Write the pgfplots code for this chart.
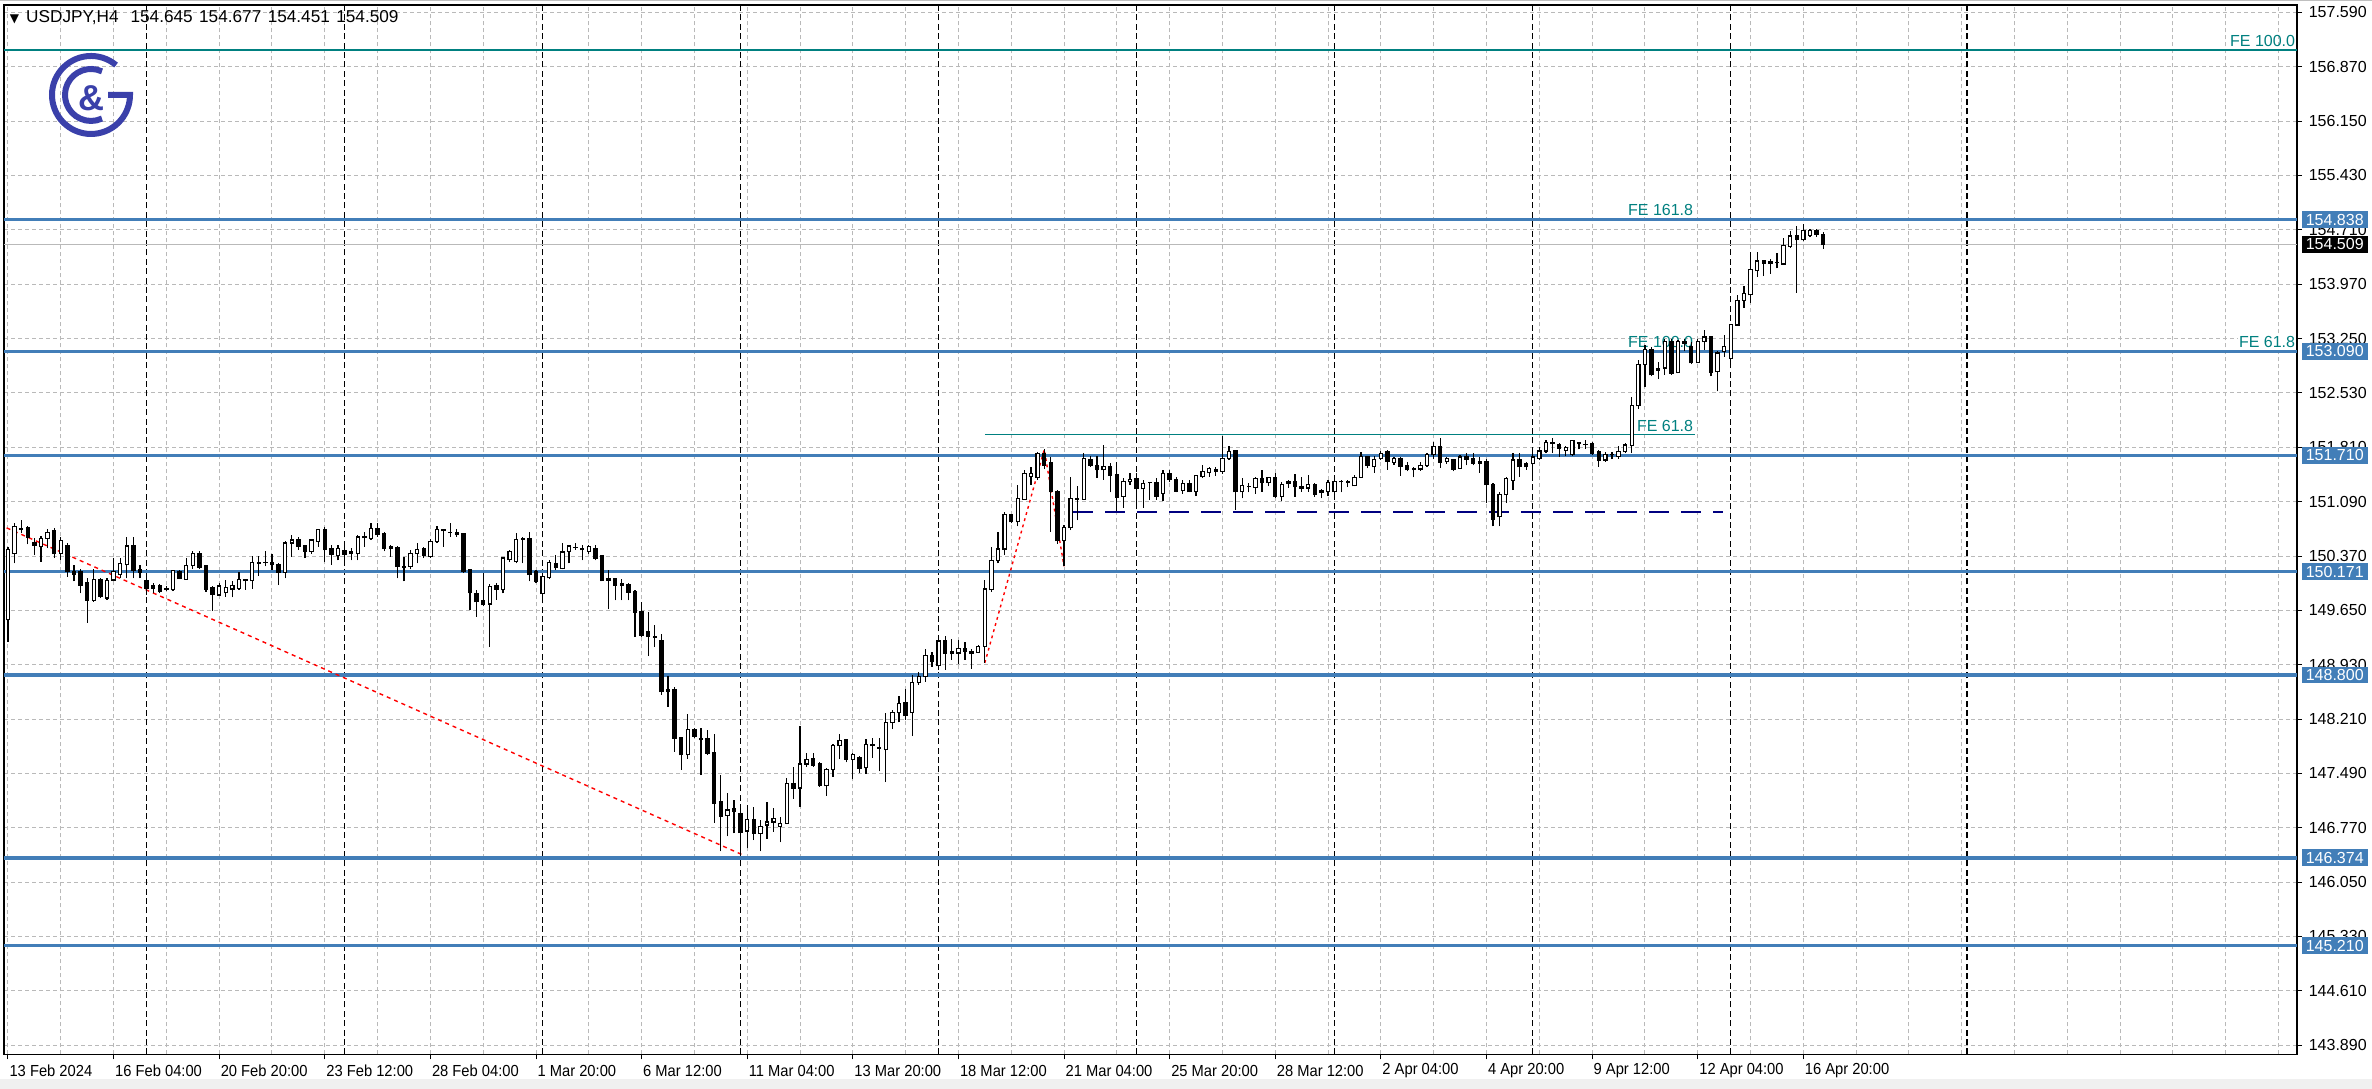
\documentclass[border=0pt]{standalone}
\usepackage{pgfplots}
\pgfplotsset{compat=1.18}
\usepackage{pgfplotstable}
\usepackage{fontspec}
\setmainfont{Liberation Sans}
\newfontfamily\dejavu{DejaVu Sans}
\newfontfamily\narrowfont[FakeStretch=0.92]{Liberation Sans}
\definecolor{lvlblue}{RGB}{66,126,184}
\definecolor{feteal}{RGB}{0,128,128}
\definecolor{gridgray}{RGB}{185,185,185}
\definecolor{logoblue}{RGB}{58,64,170}
\definecolor{navyline}{RGB}{0,0,128}
\definecolor{bidgray}{RGB}{185,185,185}

\pgfplotstableread{
x O H L C
0 149.53 150.50 149.24 150.46
1 150.41 150.81 150.28 150.77
2 150.74 150.85 150.68 150.73
3 150.76 150.77 150.53 150.63
4 150.55 150.61 150.39 150.52
5 150.50 150.64 150.30 150.61
6 150.61 150.73 150.48 150.69
7 150.72 150.75 150.35 150.41
8 150.41 150.63 150.33 150.58
9 150.51 150.55 150.10 150.17
10 150.17 150.26 150.04 150.13
11 150.17 150.21 149.88 149.99
12 150.02 150.08 149.49 149.79
13 149.79 150.21 149.77 150.07
14 150.07 150.08 149.82 149.84
15 149.82 150.08 149.80 150.05
16 150.06 150.35 150.04 150.17
17 150.13 150.35 150.08 150.28
18 150.26 150.63 150.08 150.51
19 150.51 150.63 150.08 150.19
20 150.20 150.26 150.08 150.16
21 150.05 150.13 149.86 149.95
22 149.99 150.02 149.88 149.95
23 149.98 150.00 149.88 149.91
24 149.935 149.98 149.91 149.94
25 149.93 150.19 149.91 150.18
26 150.17 150.19 150.07 150.08
27 150.07 150.35 150.06 150.25
28 150.25 150.44 150.21 150.41
29 150.41 150.44 150.21 150.23
30 150.25 150.26 149.90 149.94
31 149.96 149.98 149.65 149.87
32 149.86 150.02 149.85 149.98
33 149.89 150.06 149.84 149.96
34 149.94 150.04 149.83 149.99
35 149.95 150.17 149.93 150.07
36 150.07 150.07 149.93 150.05
37 150.05 150.38 149.94 150.29
38 150.28 150.38 150.11 150.29
39 150.29 150.44 150.24 150.29
40 150.29 150.41 150.19 150.26
41 150.26 150.29 149.99 150.16
42 150.16 150.57 150.08 150.55
43 150.55 150.66 150.37 150.59
44 150.60 150.63 150.46 150.51
45 150.51 150.52 150.35 150.44
46 150.44 150.60 150.41 150.59
47 150.57 150.74 150.50 150.73
48 150.73 150.76 150.30 150.46
49 150.47 150.52 150.26 150.40
50 150.38 150.52 150.32 150.48
51 150.45 150.55 150.30 150.40
52 150.43 150.48 150.32 150.41
53 150.41 150.66 150.32 150.63
54 150.63 150.70 150.50 150.62
55 150.61 150.82 150.59 150.74
56 150.74 150.81 150.63 150.66
57 150.68 150.69 150.44 150.48
58 150.50 150.52 150.37 150.48
59 150.49 150.51 150.08 150.24
60 150.24 150.37 150.04 150.23
61 150.24 150.46 150.20 150.41
62 150.41 150.55 150.28 150.46
63 150.47 150.50 150.35 150.38
64 150.37 150.60 150.35 150.57
65 150.57 150.78 150.55 150.73
66 150.73 150.73 150.50 150.71
67 150.69 150.82 150.63 150.69
68 150.69 150.73 150.63 150.66
69 150.67 150.68 150.15 150.17
70 150.20 150.21 149.66 149.89
71 149.88 149.93 149.57 149.77
72 149.79 150.15 149.71 149.73
73 149.74 150.00 149.17 149.97
74 149.99 150.02 149.80 149.94
75 149.93 150.37 149.88 150.35
76 150.33 150.46 150.30 150.44
77 150.30 150.68 150.28 150.60
78 150.60 150.63 150.28 150.61
79 150.61 150.70 150.04 150.13
80 150.17 150.19 150.02 150.04
81 149.88 150.15 149.75 150.11
82 150.09 150.32 150.07 150.29
83 150.27 150.39 150.19 150.22
84 150.21 150.55 150.20 150.43
85 150.44 150.52 150.28 150.51
86 150.49 150.55 150.46 150.49
87 150.48 150.52 150.32 150.46
88 150.44 150.52 150.41 150.50
89 150.48 150.52 150.32 150.35
90 150.38 150.39 150.04 150.05
91 150.08 150.19 149.67 150.06
92 150.08 150.09 149.79 149.99
93 150.01 150.07 149.79 149.99
94 150.00 150.02 149.79 149.90
95 149.90 149.93 149.30 149.63
96 149.64 149.77 149.30 149.33
97 149.37 149.64 149.05 149.31
98 149.31 149.46 149.17 149.30
99 149.26 149.34 148.54 148.58
100 148.60 148.78 148.38 148.58
101 148.61 148.64 147.78 147.96
102 147.97 147.98 147.54 147.74
103 147.74 148.28 147.69 148.08
104 148.08 148.10 147.96 147.99
105 147.96 148.09 147.47 147.94
106 147.95 148.07 147.74 147.76
107 147.77 148.02 146.84 147.10
108 147.12 147.47 146.46 146.93
109 146.94 147.23 146.66 147.01
110 147.03 147.14 146.70 146.99
111 146.96 147.08 146.41 146.71
112 146.73 147.08 146.50 146.88
113 146.88 147.05 146.61 146.70
114 146.70 146.88 146.46 146.79
115 146.81 147.12 146.63 146.85
116 146.85 147.03 146.72 146.90
117 146.79 146.92 146.58 146.83
118 146.83 147.43 146.82 147.36
119 147.36 147.58 147.16 147.30
120 147.30 148.12 147.05 147.62
121 147.62 147.76 147.58 147.68
122 147.69 147.77 147.58 147.60
123 147.63 147.65 147.32 147.33
124 147.33 147.56 147.20 147.55
125 147.55 147.89 147.45 147.86
126 147.86 148.02 147.68 147.93
127 147.94 147.95 147.64 147.68
128 147.68 147.76 147.42 147.74
129 147.71 147.72 147.50 147.56
130 147.57 147.95 147.49 147.88
131 147.88 147.96 147.70 147.86
132 147.84 147.97 147.52 147.83
133 147.81 148.30 147.38 148.17
134 148.17 148.33 148.08 148.30
135 148.30 148.52 148.17 148.42
136 148.43 148.62 148.20 148.26
137 148.30 148.80 147.99 148.70
138 148.70 148.84 148.67 148.78
139 148.78 149.15 148.71 149.06
140 149.06 149.11 148.91 148.98
141 148.92 149.27 148.87 149.25
142 149.25 149.31 148.87 149.09
143 149.11 149.27 149.00 149.08
144 149.09 149.26 148.95 149.15
145 149.15 149.24 149.00 149.11
146 149.11 149.15 148.88 149.09
147 149.10 149.20 149.09 149.18
148 149.18 150.06 148.96 149.94
149 149.93 150.49 149.90 150.32
150 150.32 150.69 150.28 150.47
151 150.47 150.96 150.39 150.93
152 150.92 150.94 150.81 150.83
153 150.83 151.32 150.77 151.14
154 151.13 151.52 151.12 151.47
155 151.43 151.56 151.32 151.47
156 151.42 151.76 151.39 151.74
157 151.74 151.79 151.53 151.58
158 151.61 151.69 150.70 151.23
159 151.23 151.25 150.54 150.58
160 150.58 150.79 150.24 150.76
161 150.75 151.43 150.72 151.14
162 151.14 151.30 150.85 151.13
163 151.13 151.74 151.12 151.67
164 151.66 151.70 151.56 151.58
165 151.58 151.70 151.41 151.52
166 151.52 151.85 151.39 151.56
167 151.56 151.61 151.22 151.45
168 151.45 151.63 150.98 151.16
169 151.17 151.41 151.02 151.36
170 151.36 151.48 151.32 151.39
171 151.41 151.48 151.05 151.27
172 151.27 151.38 151.02 151.34
173 151.35 151.36 151.12 151.35
174 151.35 151.41 151.12 151.17
175 151.21 151.52 151.10 151.47
176 151.47 151.52 151.36 151.39
177 151.39 151.43 151.22 151.24
178 151.25 151.39 151.20 151.34
179 151.34 151.39 151.22 151.23
180 151.23 151.45 151.17 151.44
181 151.43 151.58 151.41 151.50
182 151.48 151.56 151.43 151.54
183 151.52 151.56 151.44 151.50
184 151.50 151.97 151.47 151.67
185 151.67 151.83 151.65 151.76
186 151.77 151.78 150.99 151.23
187 151.23 151.41 151.14 151.31
188 151.30 151.34 151.22 151.30
189 151.29 151.43 151.20 151.41
190 151.41 151.52 151.23 151.35
191 151.35 151.43 151.30 151.42
192 151.42 151.48 151.15 151.17
193 151.17 151.36 151.11 151.33
194 151.36 151.39 151.28 151.34
195 151.36 151.47 151.16 151.30
196 151.30 151.43 151.23 151.28
197 151.28 151.45 151.23 151.32
198 151.32 151.34 151.16 151.20
199 151.24 151.27 151.14 151.22
200 151.23 151.38 151.17 151.35
201 151.23 151.39 151.12 151.36
202 151.36 151.38 151.22 151.36
203 151.36 151.38 151.29 151.35
204 151.31 151.45 151.30 151.42
205 151.42 151.76 151.41 151.70
206 151.69 151.70 151.54 151.58
207 151.56 151.70 151.48 151.66
208 151.67 151.77 151.65 151.74
209 151.76 151.78 151.52 151.63
210 151.62 151.69 151.59 151.67
211 151.67 151.69 151.44 151.57
212 151.58 151.62 151.50 151.52
213 151.54 151.56 151.42 151.52
214 151.53 151.62 151.51 151.58
215 151.58 151.74 151.56 151.72
216 151.72 151.89 151.66 151.83
217 151.83 151.94 151.55 151.62
218 151.63 151.69 151.60 151.67
219 151.66 151.67 151.50 151.53
220 151.54 151.72 151.53 151.69
221 151.69 151.74 151.58 151.66
222 151.67 151.74 151.58 151.61
223 151.63 151.69 151.48 151.61
224 151.63 151.67 151.08 151.32
225 151.32 151.34 150.77 150.86
226 150.90 151.23 150.77 151.19
227 151.19 151.43 151.08 151.40
228 151.38 151.74 151.25 151.65
229 151.65 151.74 151.43 151.56
230 151.60 151.63 151.52 151.56
231 151.60 151.74 151.45 151.69
232 151.67 151.82 151.65 151.77
233 151.77 151.92 151.74 151.88
234 151.88 151.94 151.74 151.87
235 151.86 151.87 151.69 151.81
236 151.78 151.83 151.70 151.82
237 151.72 151.92 151.70 151.91
238 151.88 151.89 151.79 151.87
239 151.86 151.91 151.80 151.86
240 151.87 151.89 151.72 151.74
241 151.76 151.78 151.56 151.65
242 151.65 151.75 151.63 151.72
243 151.72 151.76 151.66 151.72
244 151.70 151.83 151.67 151.76
245 151.76 151.88 151.74 151.85
246 151.84 152.49 151.74 152.37
247 152.37 152.97 152.33 152.92
248 152.92 153.17 152.62 153.12
249 153.12 153.15 152.76 152.78
250 152.86 152.95 152.73 152.84
251 152.87 153.26 152.78 153.22
252 153.22 153.26 152.78 152.80
253 152.81 153.24 152.80 153.22
254 153.22 153.25 153.09 153.20
255 153.15 153.22 152.92 152.94
256 152.94 153.25 152.93 153.22
257 153.22 153.37 153.11 153.28
258 153.28 153.29 152.76 152.81
259 152.82 153.10 152.56 153.07
260 153.09 153.31 153.02 153.15
261 153.00 153.46 152.89 153.45
262 153.44 153.84 153.43 153.77
263 153.77 153.96 153.67 153.86
264 153.84 154.41 153.73 154.18
265 154.16 154.41 154.08 154.29
266 154.29 154.29 154.09 154.26
267 154.28 154.32 154.12 154.26
268 154.27 154.40 154.19 154.27
269 154.25 154.60 154.24 154.49
270 154.48 154.69 154.46 154.62
271 154.62 154.75 153.87 154.57
272 154.57 154.78 154.55 154.69
273 154.63 154.71 154.61 154.69
274 154.69 154.71 154.61 154.645
275 154.645 154.677 154.451 154.509
}\candles

\tikzset{pbox/.style={fill=lvlblue, text=white, anchor=west, inner xsep=1pt, inner ysep=0pt, minimum height=4.2pt, xshift=1pt, font=\fontsize{4}{4.8}\selectfont}}

\begin{document}
\begin{tikzpicture}
\useasboundingbox (-1pt,-8.65pt) rectangle (592pt,263.6pt);
\fill[white] (-1pt,-8.65pt) rectangle (592pt,263.6pt);
\fill[black!6] (-1pt,-8.65pt) rectangle (592pt,-6.15pt);
\draw[black!25, line width=0.4pt] (-1pt,263.45pt) -- (592pt,263.45pt);
\begin{axis}[
  at={(0pt,0pt)}, anchor=south west,
  scale only axis, width=573.25pt, height=262.35pt,
  xmin=-0.6, xmax=346.8, ymin=143.768, ymax=157.684,
  clip mode=individual,
  axis line style={black, line width=0.4pt},
  every tick/.style={black, line width=0.25pt},
  tick align=outside,
  major tick length=1.25pt,
  minor tick length=0pt,
  xtick pos=left, ytick pos=right, yticklabel pos=right,
  xtick={0,16,...,272},
  xticklabels={13 Feb 2024,16 Feb 04:00,20 Feb 20:00,23 Feb 12:00,28 Feb 04:00,1 Mar 20:00,6 Mar 12:00,11 Mar 04:00,13 Mar 20:00,18 Mar 12:00,21 Mar 04:00,25 Mar 20:00,28 Mar 12:00,2 Apr 04:00,4 Apr 20:00,9 Apr 12:00,12 Apr 04:00,16 Apr 20:00},
  minor xtick={0,8,...,344},
  xminorgrids=true, xmajorgrids=false,
  ytick={143.890,144.611,145.332,146.052,146.773,147.494,148.215,148.936,149.656,150.377,151.098,151.818,152.539,153.260,153.981,154.702,155.423,156.143,156.864,157.585},
  yticklabels={143.890,144.610,145.330,146.050,146.770,147.490,148.210,148.930,149.650,150.370,151.090,151.810,152.530,153.250,153.970,154.710,155.430,156.150,156.870,157.590},
  ymajorgrids=true,
  major grid style={gridgray, line width=0.25pt, dash pattern=on 1pt off 0.75pt},
  minor grid style={gridgray, line width=0.25pt, dash pattern=on 1pt off 0.75pt},
  xticklabel style={font=\narrowfont\fontsize{4}{4.8}\selectfont, anchor=west, inner sep=0.2pt, yshift=-2.9pt},
  yticklabel style={font=\fontsize{4}{4.8}\selectfont, anchor=west, inner sep=0.2pt, xshift=1.3pt},
  extra x ticks={21,51,81,111,141,171,201,231,261,296.8},
  extra x tick labels={},
  extra x tick style={grid=major, major grid style={black, line width=0.38pt, dash pattern=on 1.5pt off 0.85pt}, major tick length=0pt},
]
% horizontal levels
\addplot[feteal, line width=0.45pt] coordinates {(-0.6,157.09) (346.8,157.09)};
\addplot[bidgray, line width=0.35pt] coordinates {(-0.6,154.509) (346.8,154.509)};
\addplot[lvlblue, line width=0.85pt] coordinates {(-0.6,154.838) (346.8,154.838)};
\addplot[lvlblue, line width=0.85pt] coordinates {(-0.6,153.090) (346.8,153.090)};
\addplot[lvlblue, line width=0.85pt] coordinates {(-0.6,151.710) (346.8,151.710)};
\addplot[lvlblue, line width=0.85pt] coordinates {(-0.6,150.171) (346.8,150.171)};
\addplot[lvlblue, line width=0.85pt] coordinates {(-0.6,148.800) (346.8,148.800)};
\addplot[lvlblue, line width=0.85pt] coordinates {(-0.6,146.374) (346.8,146.374)};
\addplot[lvlblue, line width=0.85pt] coordinates {(-0.6,145.210) (346.8,145.210)};
% FE 61.8 short line
\addplot[feteal, line width=0.35pt] coordinates {(148,151.99) (255.6,151.99)};
% navy dashed
\addplot[navyline, line width=0.45pt, dash pattern=on 5pt off 3pt] coordinates {(161.4,150.965) (259.8,150.965)};
% red trend lines
\addplot[red, line width=0.35pt, dash pattern=on 1pt off 1pt] coordinates {(-0.2,150.75) (111.4,146.41)};
\addplot[red, line width=0.35pt, dash pattern=on 0.7pt off 0.9pt] coordinates {(148,148.96) (157,151.79) (160,150.24)};
% FE labels
\node[anchor=south east, text=feteal, inner sep=0.3pt, yshift=0.45pt, font=\fontsize{4}{4.8}\selectfont] at (axis cs:255.6,154.838) {FE 161.8};
\node[anchor=south east, text=feteal, inner sep=0.3pt, yshift=0.45pt, font=\fontsize{4}{4.8}\selectfont] at (axis cs:255.6,153.090) {FE 100.0};
\node[anchor=south east, text=feteal, inner sep=0.3pt, yshift=0.2pt, font=\fontsize{4}{4.8}\selectfont] at (axis cs:255.6,151.990) {FE 61.8};
\node[anchor=south east, text=feteal, inner sep=0.3pt, yshift=0.2pt, font=\fontsize{4}{4.8}\selectfont] at (axis cs:346.8,157.09) {FE 100.0};
\node[anchor=south east, text=feteal, fill=white, inner sep=0.3pt, yshift=0.45pt, font=\fontsize{4}{4.8}\selectfont] at (axis cs:346.8,153.090) {FE 61.8};
% candles: wicks
\addplot[draw=none, mark=none, error bars/.cd, y dir=plus, y explicit, error mark=none,
  error bar style={draw=black, line width=0.3pt}]
  table[x=x, y=L, y error expr={\thisrow{H}-\thisrow{L}}] {\candles};
% candles: body (outer, black)
\addplot[draw=none, mark=none, error bars/.cd, y dir=plus, y explicit, error mark=none,
  error bar style={draw=black, line width=1.1pt, line cap=butt}]
  table[x=x, y expr={min(\thisrow{O},\thisrow{C})-0.008}, y error expr={abs(\thisrow{C}-\thisrow{O})+0.016}] {\candles};
% candles: body (inner, white for bullish)
\addplot[draw=none, mark=none, error bars/.cd, y dir=plus, y explicit, error mark=none,
  error bar style={draw=white, line width=0.55pt, line cap=butt}]
  table[x=x, y expr={\thisrow{O}+0.008}, y error expr={max(\thisrow{C}-\thisrow{O}-0.016,0)}] {\candles};
% price boxes
\node[pbox] at (axis cs:346.8,154.838) {154.838};
\node[pbox] at (axis cs:346.8,153.090) {153.090};
\node[pbox] at (axis cs:346.8,151.710) {151.710};
\node[pbox] at (axis cs:346.8,150.171) {150.171};
\node[pbox] at (axis cs:346.8,148.800) {148.800};
\node[pbox] at (axis cs:346.8,146.374) {146.374};
\node[pbox] at (axis cs:346.8,145.210) {145.210};
\node[pbox, fill=black] at (axis cs:346.8,154.509) {154.509};
\end{axis}
% header text
\begin{scope}[shift={(-1pt,263.6pt)}, x=0.25pt, y=-0.25pt]
\node[anchor=west, inner sep=0pt, font=\fontsize{4.3}{5}\selectfont] at (9,18) {{\dejavu\fontsize{3}{3}\selectfont ▼}\hspace{1.8pt}USDJPY,H4\hspace{3pt}154.645\hspace{1.6pt}154.677\hspace{1.6pt}154.451\hspace{1.6pt}154.509};
\end{scope}
% logo
\begin{scope}[shift={(21.75pt,239.85pt)}, x=0.25pt, y=0.25pt]
\draw[logoblue, line width=1.5pt] (50:39) arc[start angle=50, end angle=360, radius=39] -- (17,0);
\draw[logoblue, line width=1.5pt] (65:26) arc[start angle=65, end angle=295, radius=26];
\node[text=logoblue, font=\bfseries\fontsize{9}{9}\selectfont, inner sep=0pt] at (1,-3) {\&};
\end{scope}
\end{tikzpicture}
\end{document}
